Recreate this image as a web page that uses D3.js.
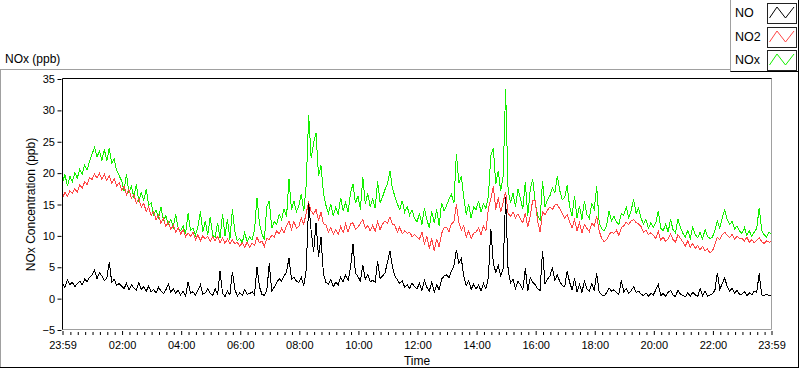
<!DOCTYPE html>
<html><head><meta charset="utf-8">
<script src="https://cdn.jsdelivr.net/npm/d3@7/dist/d3.min.js"></script>
<style>
body{margin:0;background:#fff}
svg{display:block}
text{font-family:"Liberation Sans",Arial,sans-serif;fill:#000}
</style>
</head><body><svg id="c" width="800" height="369"></svg>
<script>
// ---- data (5-minute samples starting at 23:59) ----
const stepMinutes = 5;
const seriesNames = ["NO", "NO2", "NOx"];
const seriesColors = ["#000000", "#ff4646", "#14f000"];

const NOx = [
 18.5,19.8,17.9,19.5,18.6,20.1,19.2,20.6,19.8,21.3,20.5,21.9,
 23.0,24.1,22.6,23.5,22.0,23.8,21.9,24.0,21.6,22.2,20.4,19.6,
 18.8,17.2,19.9,16.8,17.9,16.1,18.3,15.4,16.9,15.6,17.5,14.8,
 15.3,13.4,14.1,12.9,14.6,12.5,13.2,11.8,12.6,11.4,13.4,11.2,
 10.8,11.6,10.3,13.6,10.9,11.2,10.1,11.5,13.9,10.6,12.4,10.2,
 13.0,10.1,9.8,12.1,9.6,13.5,10.0,12.6,9.4,14.2,10.8,9.2,
 9.6,8.9,10.5,9.1,9.8,9.3,10.9,16.1,12.0,10.3,9.4,14.7,
 15.6,11.2,12.3,11.8,13.4,12.6,14.3,13.0,19.1,14.2,15.6,13.8,
 14.8,16.7,13.9,18.2,29.2,22.4,24.8,26.4,19.5,21.2,16.8,14.9,
 13.6,15.1,13.2,14.6,13.4,16.1,14.0,15.3,13.8,16.8,18.3,15.2,
 16.4,14.2,19.3,15.1,16.8,14.6,15.9,14.4,18.7,15.3,16.2,17.4,
 18.2,20.4,17.6,16.3,15.1,14.2,15.6,13.8,14.7,13.3,14.1,12.8,
 12.2,13.6,11.8,14.4,12.6,11.3,13.9,12.0,14.2,11.6,15.3,14.0,
 14.8,15.9,16.6,15.2,23.1,18.4,19.5,16.2,13.4,15.1,12.8,14.6,
 14.2,15.6,13.8,15.1,14.4,16.3,22.8,24.0,18.2,20.4,17.1,19.6,
 33.4,17.3,15.2,16.8,14.6,17.5,15.9,14.3,18.6,13.2,17.4,19.0,
 15.4,13.2,12.6,18.8,14.6,15.8,16.4,17.6,16.9,19.6,17.2,15.8,
 16.1,18.1,14.6,13.2,16.4,12.9,14.8,12.6,15.6,13.4,12.8,15.1,
 14.3,17.9,12.1,11.2,10.8,11.6,13.9,12.4,13.1,12.2,11.8,13.6,
 13.3,14.6,12.9,14.1,15.8,13.6,14.4,12.8,11.9,12.6,11.2,12.1,
 11.4,12.1,14.0,11.2,10.8,11.9,10.6,12.6,11.0,10.5,12.7,11.3,
 10.4,9.8,10.9,9.6,11.4,10.2,9.7,10.6,9.5,11.0,9.9,9.6,
 9.8,10.9,12.4,11.2,12.9,14.1,12.6,11.8,12.3,11.1,11.6,10.8,
 10.4,11.3,10.1,10.8,9.9,10.6,11.2,14.5,10.9,10.2,9.8,10.6,
 10.3
];

const NO2 = [
 16.1,16.9,16.3,17.2,16.8,17.5,17.0,18.1,17.6,18.6,18.2,19.3,
 19.0,19.9,19.2,20.0,19.0,19.8,18.8,19.6,18.4,19.1,17.9,18.5,
 17.3,17.9,16.6,17.4,16.0,16.6,15.2,15.9,14.6,15.2,13.9,14.6,
 13.2,13.9,12.6,13.3,12.0,12.8,11.5,12.2,11.0,11.7,10.6,11.3,
 10.3,11.0,9.8,10.5,9.9,10.6,9.4,10.2,9.2,10.0,9.5,9.9,
 9.1,9.9,9.2,9.9,8.9,9.7,8.8,9.5,8.7,9.4,8.7,9.0,
 8.3,8.9,8.2,9.0,8.2,8.8,8.5,9.8,8.9,9.2,8.3,9.6,
 9.4,10.1,9.8,10.8,10.3,11.2,10.5,11.6,12.4,11.0,12.3,11.2,
 11.5,12.9,11.8,13.7,15.3,13.9,13.5,14.2,12.4,13.8,11.9,11.8,
 10.6,11.3,10.3,11.0,10.2,11.5,10.5,11.9,10.6,11.9,12.1,11.0,
 11.4,12.0,12.6,11.2,11.6,10.8,11.7,10.7,12.2,11.0,11.9,12.4,
 12.0,13.0,11.9,11.7,10.6,11.4,10.3,10.8,10.4,10.6,9.9,10.2,
 9.8,9.5,10.6,8.7,9.9,8.0,9.6,7.6,9.5,8.2,10.4,11.3,
 11.4,10.7,11.9,12.3,15.0,12.1,10.9,11.6,9.8,10.8,9.6,10.4,
 10.6,11.3,10.1,11.6,10.8,14.3,15.9,17.9,14.2,16.1,13.8,15.4,
 17.0,13.6,13.1,13.8,12.9,13.5,12.7,12.1,13.6,11.4,13.2,15.7,
 15.6,12.4,10.6,13.8,13.4,14.1,14.6,14.2,14.9,15.0,14.3,13.6,
 12.8,13.4,12.2,11.3,12.6,10.8,12.1,10.5,11.8,11.2,10.7,12.0,
 11.6,13.1,10.8,9.6,9.1,9.4,10.2,10.6,10.4,10.9,10.1,11.3,
 11.6,12.2,11.8,12.4,12.6,12.1,11.9,11.5,10.6,10.9,10.2,10.5,
 10.1,9.6,10.7,9.3,9.8,9.1,9.5,10.3,9.4,9.0,10.2,9.6,
 9.0,8.4,9.2,8.2,8.8,8.0,8.5,7.8,8.3,7.6,7.9,7.3,
 7.6,8.6,9.8,9.4,10.2,10.6,10.1,9.7,10.3,9.5,9.9,9.6,
 9.6,9.2,9.8,9.0,9.4,8.9,9.3,9.7,9.1,8.8,9.2,9.0,
 9.1
];

const NO = [
 2.5,1.8,3.0,2.2,2.6,1.9,2.4,2.8,2.2,3.1,2.7,3.4,
 3.8,4.6,3.2,4.1,3.6,2.9,3.3,5.8,2.6,3.1,2.1,2.4,
 2.0,1.6,2.4,1.4,2.2,1.7,1.3,2.6,1.5,1.9,1.2,2.0,
 1.1,1.5,0.9,1.8,1.2,0.8,1.4,2.3,1.0,1.6,0.9,1.3,
 0.6,1.2,0.4,2.7,0.8,1.1,0.5,1.3,2.2,0.7,0.9,1.6,
 0.8,0.5,1.6,0.6,4.4,0.9,0.3,1.2,0.6,4.3,1.5,0.4,
 0.9,0.5,1.4,0.7,0.8,1.1,0.6,5.0,1.9,0.7,0.5,1.3,
 5.6,1.2,1.8,2.5,3.2,2.8,3.6,4.2,6.5,3.1,3.4,2.8,
 2.6,3.4,2.0,4.6,15.2,10.8,7.5,12.1,6.6,9.8,3.9,2.6,
 2.3,3.0,1.9,2.6,2.2,3.4,2.7,3.8,2.9,4.9,8.7,4.1,
 3.5,2.8,5.4,3.1,3.9,2.7,2.9,2.6,6.0,3.2,3.6,4.1,
 5.8,7.6,5.2,3.6,3.0,2.4,2.9,1.8,2.2,1.6,2.5,1.9,
 1.6,2.4,1.3,2.9,1.8,1.2,2.6,1.0,2.2,1.4,3.1,3.6,
 3.8,3.3,4.4,5.2,7.8,5.6,6.4,3.6,2.1,2.8,1.5,2.3,
 1.5,2.2,1.2,2.4,1.6,3.4,11.1,5.6,4.2,5.3,3.6,4.8,
 16.2,4.6,2.5,3.1,1.6,2.8,2.2,1.4,4.9,1.2,3.4,2.6,
 2.2,1.6,1.3,7.6,2.4,3.1,3.6,5.0,2.9,3.8,2.7,2.1,
 1.9,4.4,2.6,1.4,3.2,1.1,2.3,1.0,2.8,1.6,1.2,2.4,
 1.3,4.0,1.1,0.6,0.4,0.9,1.7,1.2,1.4,1.0,0.7,2.9,
 1.1,1.6,0.8,1.3,1.9,1.0,1.2,0.7,0.5,0.9,0.4,0.8,
 0.6,1.4,2.3,0.5,0.8,0.4,1.0,1.3,0.6,0.3,1.4,0.7,
 0.5,0.3,0.9,0.4,1.0,0.6,0.3,1.6,0.5,1.2,0.4,0.6,
 0.8,1.3,4.1,1.5,2.4,3.3,1.9,1.2,1.6,0.9,1.3,0.7,
 0.7,1.1,0.5,0.9,0.6,1.2,1.0,4.0,0.6,0.5,0.7,0.5,
 0.6
];

const yTicks = [-5, 0, 5, 10, 15, 20, 25, 30, 35];
const xMajorMinutes = [0, 121, 241, 361, 481, 601, 721, 841, 961, 1081, 1201, 1321, 1440];
const xMajorLabels = ["23:59","02:00","04:00","06:00","08:00","10:00","12:00","14:00","16:00","18:00","20:00","22:00","23:59"];
const xMinorMinutes = d3.range(16, 1440, 15).filter(m => !xMajorMinutes.includes(m));
const panelTitle = "NOx (ppb)";
const yTitle = "NOx Concentration (ppb)";
const xTitle = "Time";

// ---- layout ----
const svg = d3.select("#c");
const L = 62.5, R = 771.5, T = 79, B = 330;
const x = d3.scaleLinear().domain([0, 1440]).range([L, R]);
const y = d3.scaleLinear().domain([-5, 35]).range([B, T]);

// panel frame
svg.append("path").attr("d","M0,69.5H730.5M0.5,69.5V368M730.5,0V72")
  .attr("stroke","#a0a0a0").attr("fill","none");
svg.append("path").attr("d","M0,367.5H799M798.5,0V368M730.5,71.5H799")
  .attr("stroke","#000").attr("fill","none");

svg.append("text").attr("x",5).attr("y",63).attr("font-size","12px").text(panelTitle);

// series
const line = d3.line().x((d,i)=>x(i*stepMinutes)).y(d=>y(d));
const drawOrder = [[NOx,2],[NO2,1],[NO,0]];
drawOrder.forEach(([arr,k])=>{
  svg.append("path").datum(arr).attr("d",line)
    .attr("fill","none").attr("stroke",seriesColors[k]).attr("stroke-width",1)
    .attr("shape-rendering","crispEdges");
});

// plot frame
svg.append("path").attr("d",`M${L},${B}V78.5H772`).attr("stroke","#000").attr("fill","none");
svg.append("path").attr("d",`M771.5,78.5V329.5H${L}`).attr("stroke","#a0a0a0").attr("fill","none");

// y axis
const gy = svg.append("g").attr("transform","translate(61,0)")
  .call(d3.axisLeft(y).tickValues(yTicks).tickSize(4).tickPadding(2).tickFormat(d3.format("d")));
gy.select(".domain").remove();
gy.selectAll("line").attr("stroke","#000").attr("transform","translate(0.5,0)");
gy.selectAll("text").attr("font-size","11px").attr("fill","#000");
gy.attr("font-family",null);

// x axis
const gx = svg.append("g").attr("transform","translate(0,331)")
  .call(d3.axisBottom(x).tickValues(xMajorMinutes).tickSize(4).tickPadding(6)
    .tickFormat((d,i)=>xMajorLabels[i]));
gx.select(".domain").remove();
gx.selectAll("text").attr("font-size","11px").attr("fill","#000");
gx.attr("font-family",null);
const gm = svg.append("g").attr("transform","translate(0,332)")
  .call(d3.axisBottom(x).tickValues(xMinorMinutes).tickSize(3).tickFormat(""));
gm.select(".domain").remove();

svg.append("text").attr("x",(L+R)/2).attr("y",365).attr("text-anchor","middle")
  .attr("font-size","12px").text(xTitle);
svg.append("text").attr("transform",`translate(35,${(T+B)/2}) rotate(-90)`)
  .attr("text-anchor","middle").attr("font-size","12px").text(yTitle);

// legend
const lg = svg.append("g");
seriesNames.forEach((n,i)=>{
  const top = [3.5,27.5,50.5][i];
  lg.append("text").attr("x",735).attr("y",top+13.5).attr("font-size","12.5px").text(n);
  lg.append("rect").attr("x",767.5).attr("y",top).attr("width",29).attr("height",20)
    .attr("fill","#fff").attr("stroke","#222");
  lg.append("path").attr("d",`M${769.5},${top+14.5}L${777},${top+3.5}L${785.5},${top+14.5}L${794},${top+3.5}`)
    .attr("fill","none").attr("stroke",seriesColors[i]);
});
</script>
</body></html>
